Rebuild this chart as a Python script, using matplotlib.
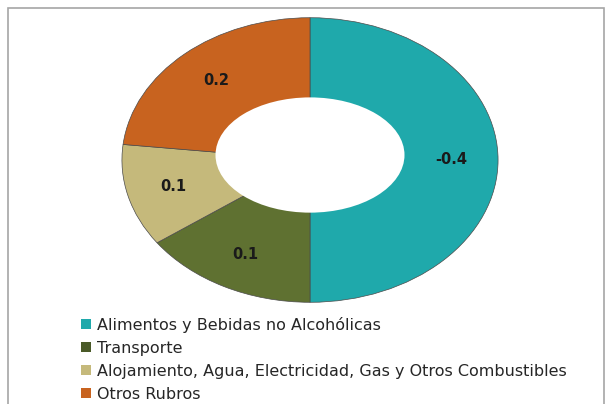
import matplotlib.pyplot as plt
from matplotlib.patches import Ellipse, Patch, Rectangle

categorias = ["Alimentos y Bebidas no Alcohólicas", "Transporte",
              "Alojamiento, Agua, Electricidad, Gas y Otros Combustibles",
              "Otros Rubros"]
valores = [-0.43, 0.13, 0.10, 0.20]
colores = ["#1fa9ab", "#5f7131", "#c5b97b", "#c8631f"]
colores_leyenda = ["#1fa9ab", "#4a5a28", "#c5b97b", "#c8631f"]

fig = plt.figure(figsize=(6.11, 4.04), dpi=100)
fig.patch.set_facecolor("white")

# marco gris del grafico
fig.add_artist(Rectangle((8 / 611, -0.05), 596 / 611, 1.05 - 8 / 404,
                         transform=fig.transFigure, fill=False,
                         edgecolor="#a6a6a6", linewidth=1.2))

ax = fig.add_axes([121 / 611, 101 / 404, 378 / 611, 286 / 404])

etiquetas = iter(f"{v:.1f}" for v in valores)
wedges, _, autotexts = ax.pie(
    [abs(v) for v in valores], colors=colores, startangle=90,
    counterclock=False, radius=1,
    autopct=lambda p: next(etiquetas), pctdistance=0.75,
    wedgeprops=dict(edgecolor="#4a4a4a", linewidth=0.5),
    textprops=dict(fontsize=10.5, fontweight="bold", color="#1a1a1a"))

# agujero central
ax.add_patch(Ellipse((0, 0.035), 1.005, 0.81, facecolor="white",
                     edgecolor="none", zorder=5))

ax.set_aspect("auto")
ax.set_xlim(-1.005, 1.005)
ax.set_ylim(-1.005, 1.005)
ax.axis("off")

handles = [Patch(facecolor=c, edgecolor="none") for c in colores_leyenda]
fig.legend(handles, categorias, loc="upper left",
           bbox_to_anchor=(81 / 611, 1 - 317 / 404), frameon=False,
           fontsize=11.5, handlelength=0.6, handleheight=0.6,
           handletextpad=0.4, labelspacing=0.5, labelcolor="#262626",
           borderaxespad=0, borderpad=0)

fig.savefig("out.png", dpi=100)
